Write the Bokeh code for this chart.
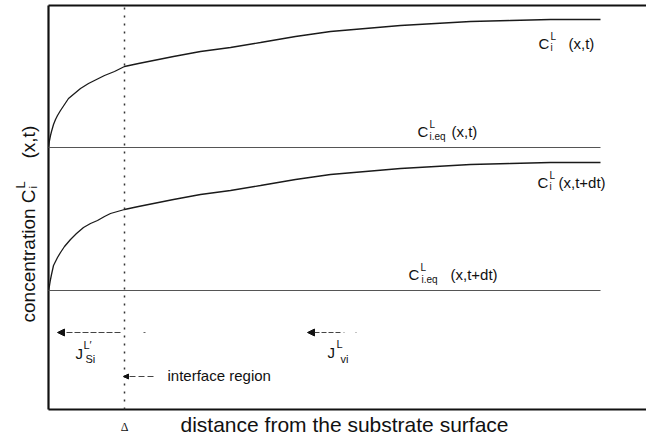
import math
from bokeh.plotting import figure
from bokeh.models import Range1d, Label, Arrow, NormalHead
from bokeh.embed import file_html
from bokeh.resources import INLINE

# ---- data (distance units ~ px from the substrate surface; concentration units) ----
upper_x = [0, 1, 2, 3, 5, 7, 9, 12, 16, 20, 26, 32, 40, 48, 56, 66, 76, 90, 105, 125,
           152, 182, 212, 247, 282, 317, 352, 387, 422, 462, 502, 552]
upper_y = [262, 269, 274, 278, 285, 290, 294, 299, 305, 311, 316, 321, 326, 330, 334, 338,
           343, 346, 349, 353, 358, 362, 367, 373, 378, 381, 384, 386, 388, 389, 390, 390]
lower_x = [0, 1, 2, 3, 5, 7, 9, 12, 16, 22, 28, 35, 42, 49, 56, 62, 76, 90, 105, 125,
           152, 182, 212, 247, 282, 317, 352, 387, 422, 462, 502, 552]
lower_y = [119, 124, 130, 135, 144, 148, 152, 157, 163, 170, 176, 182, 186, 189, 193, 196,
           200, 203, 206, 210, 215, 219, 224, 230, 235, 238, 241, 243, 245, 246, 247, 247]
eq_x = [0, 552]
eq_upper = [262, 262]
eq_lower = [119, 119]
interface_x = 76
x_end = 598
y_top = 404
delta_label = "Δ"
x_label = "distance from the substrate surface"

FONT = "Liberation Sans"

p = figure(width=646, height=438, output_backend="svg", toolbar_location=None,
           x_range=Range1d(-48, 598), y_range=Range1d(-29, 409),
           min_border=0, min_border_left=0, min_border_right=0,
           min_border_top=0, min_border_bottom=0)
p.axis.visible = False
p.grid.visible = False
p.outline_line_color = None
p.background_fill_color = "white"
p.border_fill_color = "white"

# frame lines (top, bottom, left)
p.line([0, x_end], [y_top, y_top], line_color="#111111", line_width=2.2)
p.line([0, x_end], [0, 0], line_color="#111111", line_width=2.2)
p.line([0, 0], [0, y_top], line_color="#111111", line_width=2.2)

# curves
p.line(upper_x, upper_y, line_color="#1a1a1a", line_width=1.3)
p.line(lower_x, lower_y, line_color="#1a1a1a", line_width=1.3)
p.line(eq_x, eq_upper, line_color="#555555", line_width=1.1)
p.line(eq_x, eq_lower, line_color="#555555", line_width=1.1)

# interface (dotted vertical)
p.line([interface_x, interface_x], [0, y_top], line_color="#333333", line_width=1.5,
       line_dash="2 6")

# flux arrows
def arrow(x0, x1, y, size, dash):
    p.add_layout(Arrow(end=NormalHead(size=size, fill_color="#111111", line_color="#111111"),
                       x_start=x0, y_start=y, x_end=x1, y_end=y,
                       line_color="#444444", line_width=1.1, line_dash=dash))

arrow(72, 9, 77, 7, "6 2")
p.line([95, 97], [77, 77], line_color="#666666", line_width=1)
arrow(292, 259, 77, 7, "5 2")
p.line([295, 309], [77, 77], line_color="#888888", line_width=1, line_dash="1 11")
arrow(105, 75, 33, 5, "6 3")

def lab(x, y, text, size, angle=0.0, align="left", font=FONT, color="#111111"):
    p.add_layout(Label(x=x, y=y, text=text, text_font=font, text_font_size=size,
                       text_color=color, text_align=align, text_baseline="alphabetic",
                       angle=angle))

# right-hand labels
lab(490, 366, "C", "15px"); lab(502, 373, "L", "10px"); lab(502, 362, "i", "10px")
lab(520, 366, "(x,t)", "15px")

lab(369, 278, "C", "15px"); lab(381, 285, "L", "10px"); lab(381, 273, "i.eq", "10px")
lab(403, 278, "(x,t)", "15px")

lab(489, 227, "C", "15px"); lab(501, 234, "L", "10px"); lab(501, 223, "i", "10px")
lab(510, 227, "(x,t+dt)", "15px")

lab(360, 135, "C", "15px"); lab(372, 142, "L", "10px"); lab(373, 130, "i.eq", "10px")
lab(402, 135, "(x,t+dt)", "15px")

# flux labels
lab(27, 56, "J", "15px"); lab(35, 65, "L′", "11px"); lab(37, 51, "Si", "11px")
lab(279, 57, "J", "15px"); lab(288, 66, "L", "11px"); lab(292, 51, "vi", "11px")

lab(119, 34, "interface region", "15px")

# axis-like labels
lab(interface_x, -17, delta_label, "12px", align="center", font="Liberation Serif")
lab(132, -15, x_label, "21px")

a = math.pi / 2
lab(-20, 87, "concentration C", "19px", angle=a)
lab(-28, 221, "L", "13px", angle=a)
lab(-16, 221, "i", "11px", angle=a)
lab(-20, 251, "(x,t)", "19px", angle=a)

open("out.html", "w").write(file_html(p, INLINE))
